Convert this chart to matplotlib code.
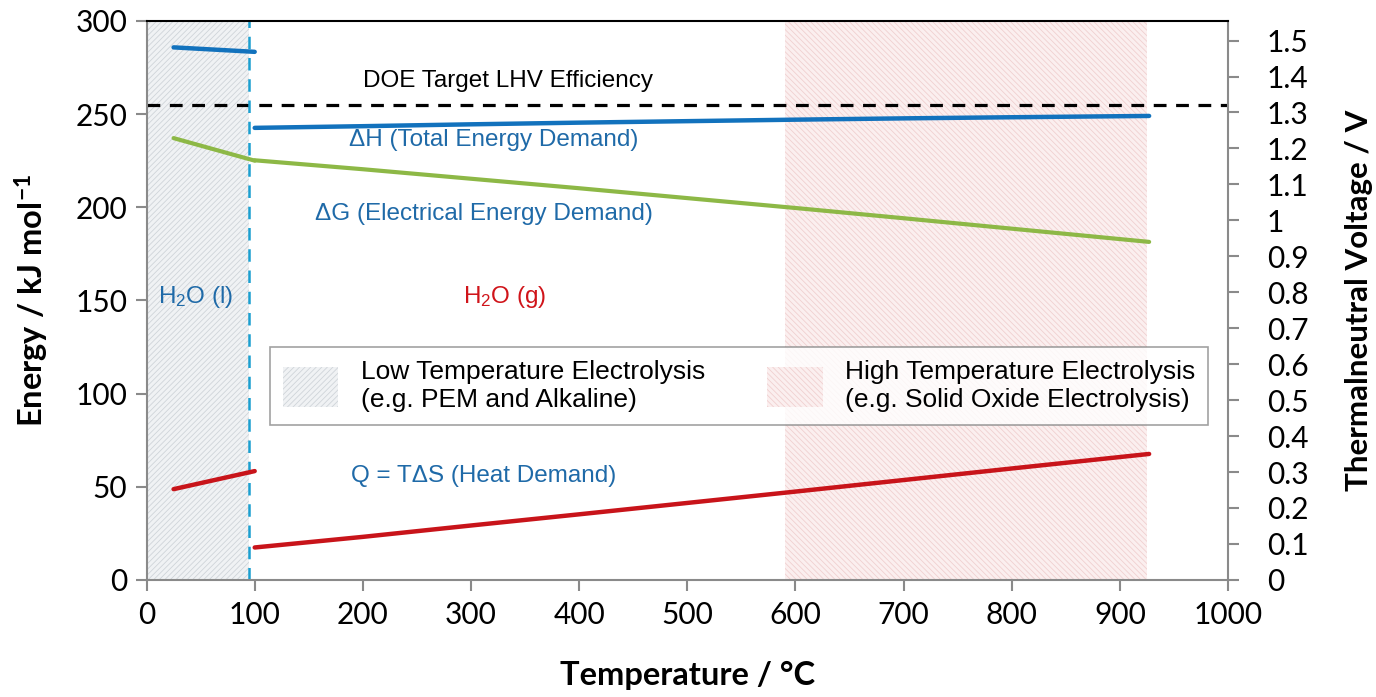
import matplotlib
matplotlib.use('Agg')
import matplotlib.pyplot as plt
from matplotlib.patches import Patch
from matplotlib.ticker import FuncFormatter

plt.rcParams['mathtext.default'] = 'regular'
plt.rcParams['hatch.linewidth'] = 0.6

# Datos termodinamicos de la electrolisis del agua
T_liq = [25, 100]
dH_liq = [285.8, 283.4]
dG_liq = [237.1, 225.0]
Q_liq = [48.7, 58.4]

T_gas = [100, 200, 300, 400, 500, 600, 700, 800, 927]
dH_gas = [242.6, 243.5, 244.5, 245.4, 246.2, 247.0, 247.7, 248.3, 249.0]
dG_gas = [225.2, 220.4, 215.3, 210.2, 204.9, 199.6, 194.1, 188.5, 181.4]
Q_gas = [17.4, 23.1, 29.2, 35.2, 41.3, 47.4, 53.6, 59.8, 67.6]

doe_target = 255
limite_fase = 95
rango_baja = (0, 95)
rango_alta = (590, 925)

x_ticks = list(range(0, 1001, 100))
y_ticks = list(range(0, 301, 50))
v_ticks = [i / 10 for i in range(0, 16)]

c_azul = '#1272bd'
c_verde = '#8db846'
c_rojo = '#c8141a'
c_texto_azul = '#1f6aa8'
c_gris = '#8a8a8a'
fuente_ejes = 'Lato'
fuente_txt = ['Liberation Sans', 'DejaVu Sans']

baja_fc, baja_hc = '#f0f2f4', '#cfd4d9'
alta_fc, alta_hc = '#fbefef', '#f0d0d0'

fig = plt.figure(figsize=(13.76, 6.97), dpi=100)
ax = fig.add_axes([0.1065, 0.168, 0.786, 0.802])

# zonas de electrolisis
ax.axvspan(*rango_baja, facecolor=baja_fc, edgecolor=baja_hc, hatch='//////', linewidth=0, zorder=0)
ax.axvspan(*rango_alta, facecolor=alta_fc, edgecolor=alta_hc, hatch='\\\\\\\\\\\\', linewidth=0, zorder=0)

ax.axhline(doe_target, color='black', lw=2.3, dashes=(4, 3), zorder=2)
ax.axvline(limite_fase, color='#1a9fd0', lw=1.8, dashes=(5, 3.5), zorder=2)

ax.plot(T_liq, dH_liq, color=c_azul, lw=3.2, solid_capstyle='round', zorder=3)
ax.plot(T_gas, dH_gas, color=c_azul, lw=3.2, solid_capstyle='round', zorder=3)
ax.plot(T_liq, dG_liq, color=c_verde, lw=3, solid_capstyle='round', zorder=3)
ax.plot(T_gas, dG_gas, color=c_verde, lw=3, solid_capstyle='round', zorder=3)
ax.plot(T_liq, Q_liq, color=c_rojo, lw=3.2, solid_capstyle='round', zorder=3)
ax.plot(T_gas, Q_gas, color=c_rojo, lw=3.2, solid_capstyle='round', zorder=3)

ax.set_xlim(0, 1000)
ax.set_ylim(0, 300)
ax.set_xticks(x_ticks)
ax.set_yticks(y_ticks)

for lado in ['left', 'bottom', 'right']:
    ax.spines[lado].set_color(c_gris)
    ax.spines[lado].set_linewidth(1.5)
ax.spines['top'].set_color('black')
ax.spines['top'].set_linewidth(1.5)
ax.tick_params(axis='both', direction='out', length=8, width=1.5, color=c_gris,
               labelsize=21.5, pad=6)
for lbl in ax.get_xticklabels() + ax.get_yticklabels():
    lbl.set_family(fuente_ejes)
ax.tick_params(axis='x', pad=7)

ax.set_xlabel('Temperature / °C', family=fuente_ejes, fontweight='bold', fontsize=23.5, labelpad=23)
ax.set_ylabel('Energy / kJ mol$^{-1}$', family=fuente_ejes, fontweight='bold', fontsize=23.5, labelpad=17)

# eje de tension termoneutra
ax2 = ax.twinx()
ax2.set_ylim(0, 300 / (2 * 96.485))
ax2.set_yticks(v_ticks)
ax2.yaxis.set_major_formatter(FuncFormatter(lambda v, p: f'{v:g}'))
ax2.tick_params(axis='y', direction='out', length=8, width=1.5, color=c_gris, labelsize=21.5, pad=20)
for lbl in ax2.get_yticklabels():
    lbl.set_family(fuente_ejes)
for lado in ax2.spines:
    ax2.spines[lado].set_visible(False)
ax2.set_ylabel('Thermalneutral Voltage / V', family=fuente_ejes, fontweight='bold', fontsize=22.5, labelpad=26)

# etiquetas
ax.text(334, 268, 'DOE Target LHV Efficiency', color='black', fontsize=17.5,
        family=fuente_txt, ha='center', va='center')
ax.text(321, 236, 'ΔH (Total Energy Demand)', color=c_texto_azul, fontsize=17.5,
        family=fuente_txt, ha='center', va='center')
ax.text(312, 196.5, 'ΔG (Electrical Energy Demand)', color=c_texto_azul, fontsize=17.5,
        family=fuente_txt, ha='center', va='center')
ax.text(45, 152, 'H$_2$O (l)', color=c_texto_azul, fontsize=17.5,
        family=fuente_txt, ha='center', va='center')
ax.text(331, 152, 'H$_2$O (g)', color='#d0141a', fontsize=17.5,
        family=fuente_txt, ha='center', va='center')
ax.text(312, 55.5, 'Q = TΔS (Heat Demand)', color=c_texto_azul, fontsize=17.5,
        family=fuente_txt, ha='center', va='center')

handles = [
    Patch(facecolor=baja_fc, edgecolor=baja_hc, hatch='//////', linewidth=0),
    Patch(facecolor=alta_fc, edgecolor=alta_hc, hatch='\\\\\\\\\\\\', linewidth=0),
]
etiquetas = ['Low Temperature Electrolysis\n(e.g. PEM and Alkaline)',
             'High Temperature Electrolysis\n(e.g. Solid Oxide Electrolysis)']
leg = ax.legend(handles, etiquetas, ncol=2,
                bbox_to_anchor=(0.114, 0.277), loc='lower left',
                prop={'family': fuente_txt, 'size': 19}, frameon=True, fancybox=False,
                handlelength=2.1, handleheight=1.9, handletextpad=0.85,
                columnspacing=2.35, borderaxespad=0, borderpad=0.5)
leg.get_frame().set_edgecolor(c_gris)
leg.get_frame().set_linewidth(1.2)
leg.set_zorder(4)

fig.savefig('out.png', dpi=100)
